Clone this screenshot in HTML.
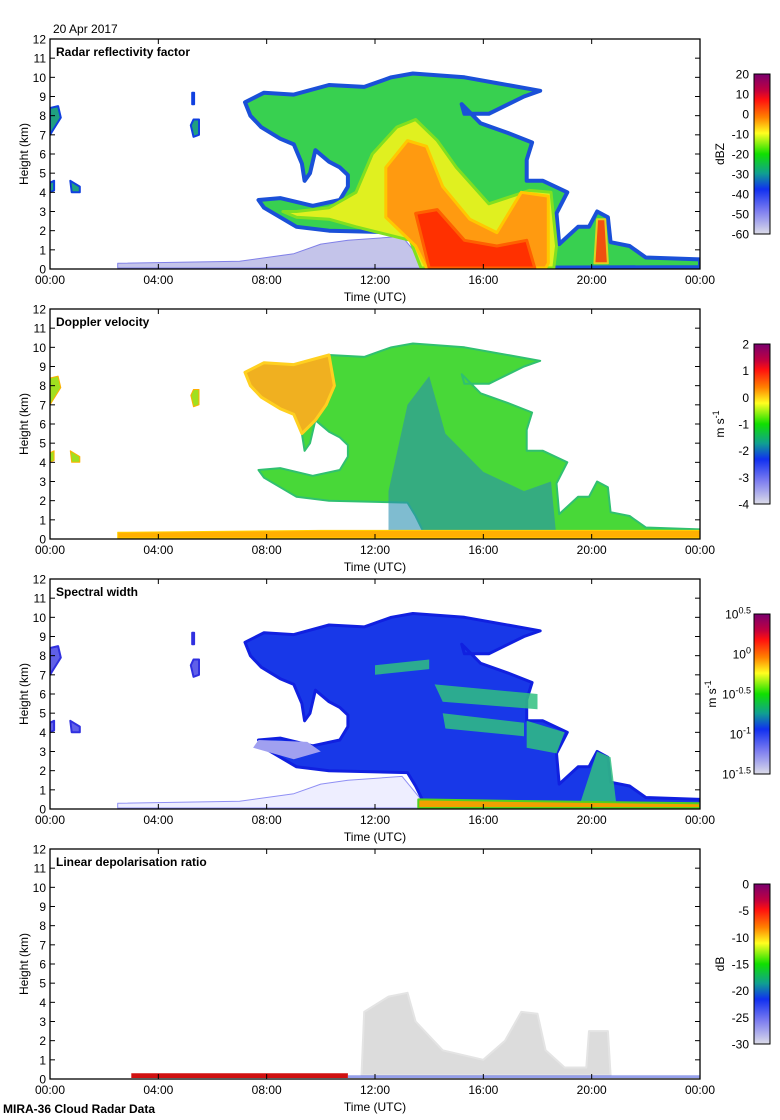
<!DOCTYPE html>
<html><head><meta charset="utf-8">
<style>
html,body{margin:0;padding:0;background:#fff;}
svg{display:block;font-family:"Liberation Sans",sans-serif;}
</style></head>
<body>
<svg id="fig" width="780" height="1120" viewBox="0 0 780 1120" xmlns="http://www.w3.org/2000/svg">
<defs>
<linearGradient id="cmap" x1="0" y1="0" x2="0" y2="1">
<stop offset="0" stop-color="#7a006e"/>
<stop offset="0.1" stop-color="#c00040"/>
<stop offset="0.16" stop-color="#ff1010"/>
<stop offset="0.27" stop-color="#ff8000"/>
<stop offset="0.37" stop-color="#ffff20"/>
<stop offset="0.5" stop-color="#10e000"/>
<stop offset="0.62" stop-color="#10a090"/>
<stop offset="0.72" stop-color="#1030f0"/>
<stop offset="0.86" stop-color="#8080f0"/>
<stop offset="1" stop-color="#dcdce8"/>
</linearGradient>
</defs>
<text x="53" y="33" font-size="12">20 Apr 2017</text>
<text x="3" y="1113" font-size="12" font-weight="bold">MIRA-36 Cloud Radar Data</text>
</svg>
<script>
// ---- data ----
var timeTicks = ["00:00","04:00","08:00","12:00","16:00","20:00","00:00"];
var heightTicks = [0,1,2,3,4,5,6,7,8,9,10,11,12];
var panelTitles = ["Radar reflectivity factor","Doppler velocity","Spectral width","Linear depolarisation ratio"];
var unitLabels = ["dBZ","m s-1","m s-1","dB"];
var cbTicks0 = ["20","10","0","-10","-20","-30","-40","-50","-60"];
var cbTicks1 = ["2","1","0","-1","-2","-3","-4"];
var cbTicks2 = ["0.5","0","-0.5","-1","-1.5"];
var cbTicks3 = ["0","-5","-10","-15","-20","-25","-30"];
var cloudOutline = [[7.2,8.7],[7.9,9.2],[9,9.1],[10.3,9.6],[11.6,9.5],[12.6,10.0],[13.4,10.2],[15.3,10.0],[16.5,9.7],[18.1,9.3],[17.5,9.0],[16.2,8.1],[15.3,8.1],[15.2,8.6],[15.9,7.6],[16.9,7.1],[17.8,6.6],[17.6,5.7],[17.6,4.6],[18.2,4.6],[19.1,4.0],[18.7,2.9],[18.8,1.3],[19.5,2.2],[19.9,2.2],[20.2,3.0],[20.6,2.7],[20.7,1.4],[21.4,1.2],[22,0.6],[24,0.5],[24,0.1],[13.9,0.05],[13.5,1.2],[13.2,1.9],[10.3,2.0],[9.1,2.2],[7.9,3.2],[7.7,3.6],[8.5,3.7],[9.7,3.3],[10.7,3.6],[11.0,4.3],[11.0,4.9],[10.7,5.3],[10.3,5.6],[9.8,6.2],[9.6,5.0],[9.4,4.6],[9.3,5.5],[9.0,6.5],[8.5,6.8],[7.8,7.4],[7.4,8.0]];
var yellowCore = [[11.9,6.0],[12.8,7.4],[13.5,7.8],[14.3,6.7],[15.0,5.3],[16.2,3.4],[17.7,4.1],[18.5,4.0],[18.7,1.2],[18.6,0.05],[13.7,0.05],[13.3,1.5],[11.3,2.2],[10.3,2.6],[9.1,2.7],[8.6,3.0],[9.1,3.0],[10.3,3.2],[11.3,4.0]];
var orangeCore = [[12.4,5.3],[13.2,6.7],[13.9,6.4],[14.5,4.3],[15.5,2.6],[16.5,1.9],[17.4,4.0],[18.4,3.8],[18.4,0.3],[18.3,0.05],[13.9,0.05],[13.5,1.2],[12.4,2.7]];
var redCore = [[13.5,2.9],[14.3,3.1],[15.3,1.5],[16.5,1.2],[17.6,1.5],[17.9,0.05],[14.0,0.05]];
var spikeCore = [[20.1,0.3],[20.2,2.6],[20.5,2.6],[20.6,0.3]];
var clearAir = [[2.5,0.05],[2.5,0.3],[7,0.4],[9,0.8],[10,1.3],[11,1.5],[13,1.7],[13.7,0.5],[13.7,0.05]];
var smallBlobs = [[[0,7.0],[0.4,7.9],[0.3,8.5],[0,8.4]],[[0,4.0],[0.15,4.1],[0.15,4.6],[0,4.5]],[[0.75,4.6],[0.8,4.0],[1.1,4.0],[1.1,4.3]],[[5.2,7.5],[5.3,6.9],[5.5,7.0],[5.5,7.8],[5.3,7.8]],[[5.25,8.6],[5.32,8.6],[5.32,9.2],[5.25,9.2]]];
var velWarm = [[7.2,8.7],[7.9,9.2],[9,9.1],[10.3,9.6],[10.5,8.0],[10.2,7.0],[9.8,6.2],[9.3,5.5],[9.0,6.5],[8.5,6.8],[7.8,7.4],[7.4,8.0]];
var velBlue = [[12.5,2.5],[13.2,7],[14,8.5],[14.6,5.5],[16,3.5],[17.5,2.5],[18.5,3],[18.7,0.05],[12.5,0.05]];
var velSurface = [[2.5,0.05],[2.5,0.35],[10,0.45],[24,0.45],[24,0.05]];
var swGreen = [[[14.2,6.5],[18,6],[18,5.2],[14.5,5.6]],[[14.5,5.0],[17.5,4.5],[17.5,3.8],[14.6,4.2]],[[12,7.5],[14,7.8],[14,7.3],[12,7.0]],[[17.6,4.6],[19,4.0],[18.7,2.9],[17.6,3.2]],[[19.6,0.4],[20.2,3],[20.7,2.7],[20.9,0.4]]];
var swLower = [[7.5,3.2],[7.7,3.6],[9.5,3.5],[10.0,3.0],[9.0,2.6]];
var swSurface = [[13.6,0.05],[13.6,0.5],[18,0.4],[24,0.3],[24,0.05]];
var ldrGrey = [[11.5,0.2],[11.6,3.5],[12.5,4.3],[13.2,4.5],[13.5,3],[14.5,1.5],[16,1.0],[16.8,2.0],[17.4,3.5],[18,3.4],[18.3,1.5],[19,0.6],[19.8,0.6],[19.9,2.5],[20.6,2.5],[20.7,0.2]];
var ldrSurface = [[3,0.05],[3,0.3],[11,0.3],[11,0.05]];
var ldrBlue = [[11,0.05],[11,0.2],[24,0.2],[24,0.05]];
// ---- drawing ----
var NS="http://www.w3.org/2000/svg";
var svg=document.getElementById('fig');
var X0=50,X1=700,PH=230;
function xs(t){return X0+t*(X1-X0)/24;}
function ysFor(pt){return function(h){return pt+PH-h*PH/12;};}
function mk(tag,attrs,parent){var e=document.createElementNS(NS,tag);for(var k in attrs)e.setAttribute(k,attrs[k]);(parent||svg).appendChild(e);return e;}
function poly(g,pts,ys,fill,stroke,sw,name,op){
  var p=pts.map(function(q){return xs(q[0]).toFixed(1)+","+ys(q[1]).toFixed(1);}).join(" ");
  var e=mk('polygon',{points:p,fill:fill,stroke:stroke||'none','stroke-width':sw||0,'stroke-linejoin':'round',opacity:op||1},g);
  
  
  return e;
}
var cbTickSets=[cbTicks0,cbTicks1,cbTicks2,cbTicks3];
for(var i=0;i<4;i++){
  var ptop=39+270*i, ys=ysFor(ptop);
  var g=mk('g',{});
  
  
  var clipId='clip'+i;
  var cp=mk('clipPath',{id:clipId},g);mk('rect',{x:X0,y:ptop,width:X1-X0,height:PH},cp);
  var dg=mk('g',{'clip-path':'url(#'+clipId+')'},g);
  if(i===0){
    poly(dg,clearAir,ys,'#c4c4ea','#8080e8',1,'clear-air-echo');
    smallBlobs.forEach(function(b){poly(dg,b,ys,'#20a080','#1040e0',2,'small-cloud');});
    poly(dg,cloudOutline,ys,'#38d050','#1a50d8',4,'cloud-echo');
    poly(dg,yellowCore,ys,'#e0f020','#80e020',3,'core-yellow');
    poly(dg,orangeCore,ys,'#ff9a10','#ffc800',3,'core-orange');
    poly(dg,redCore,ys,'#ff3000','#ff6000',3,'core-red');
    poly(dg,spikeCore,ys,'#f05010','#e0d020',2,'core-spike');
  } else if(i===1){
    smallBlobs.slice(0,4).forEach(function(b){poly(dg,b,ys,'#a0e020','#ffb000',1,'small-cloud');});
    poly(dg,cloudOutline,ys,'#48d838','#30c070',2,'cloud-velocity');
    poly(dg,velWarm,ys,'#f0b020','#ffd020',3,'updraft-warm');
    poly(dg,velBlue,ys,'#2a90b0','none',0,'downdraft-blue',0.6);
    poly(dg,velSurface,ys,'#ffb000','#ffd000',1,'surface-band');
  } else if(i===2){
    poly(dg,clearAir,ys,'#e8e8ff','#6060f0',1,'clear-air-width',0.7);
    smallBlobs.forEach(function(b){poly(dg,b,ys,'#6060e8','#3030e0',2,'small-cloud');});
    poly(dg,cloudOutline,ys,'#1838e8','#1020e0',3,'cloud-width');
    swGreen.forEach(function(b){poly(dg,b,ys,'#30c080','none',0,'width-patch',0.85);});
    poly(dg,swLower,ys,'#a0a0f0','none',0,'lower-layer');
    poly(dg,swSurface,ys,'#f0a000','#50d020',2,'surface-band');
  } else {
    poly(dg,ldrGrey,ys,'#dcdcdc','#e4e4e4',2,'ldr-echo');
    poly(dg,ldrSurface,ys,'#d01010','none',0,'surface-band');
    poly(dg,ldrBlue,ys,'#5060e0','none',0,'surface-band-blue',0.6);
  }
  var fr=mk('rect',{x:X0,y:ptop,width:X1-X0,height:PH,fill:'none',stroke:'#000','stroke-width':1.3},g);
  
  
  heightTicks.forEach(function(h){
    var y=ys(h);
    mk('line',{x1:X0,x2:X0+5,y1:y,y2:y,stroke:'#000'},g);
    mk('line',{x1:X1-5,x2:X1,y1:y,y2:y,stroke:'#000'},g);
    var t=mk('text',{x:X0-4,y:y+4.5,'font-size':12,'text-anchor':'end'},g);t.textContent=h;
    
    
  });
  timeTicks.forEach(function(s,k){
    var x=xs(k*4);
    mk('line',{x1:x,x2:x,y1:ptop,y2:ptop+5,stroke:'#000'},g);
    mk('line',{x1:x,x2:x,y1:ptop+PH-5,y2:ptop+PH,stroke:'#000'},g);
    var t=mk('text',{x:x,y:ptop+PH+15,'font-size':12,'text-anchor':'middle'},g);t.textContent=s;
    
    
  });
  var tt=mk('text',{x:56,y:ptop+17,'font-size':12,'font-weight':'bold'},g);tt.textContent=panelTitles[i];
  
  
  var xl=mk('text',{x:375,y:ptop+PH+32,'font-size':12,'text-anchor':'middle'},g);xl.textContent='Time (UTC)';
  
  
  var yl=mk('text',{x:0,y:0,'font-size':12,'text-anchor':'middle',transform:'translate(28,'+(ptop+PH/2)+') rotate(-90)'},g);yl.textContent='Height (km)';
  
  
  var cbTop=ptop+35,cbH=160;
  var cb=mk('rect',{x:754,y:cbTop,width:16,height:cbH,fill:'url(#cmap)',stroke:'#000','stroke-width':1},g);
  
  
  var ticks=cbTickSets[i];
  ticks.forEach(function(s,k){
    var y=cbTop+k*cbH/(ticks.length-1);
    var t;
    if(i===2){
      t=mk('text',{x:751,y:y+4.5,'font-size':12,'text-anchor':'end'},g);
      var b=mk('tspan',{},t);b.textContent='10';
      var e=mk('tspan',{dy:-5,'font-size':9},t);e.textContent=s;
    } else {
      t=mk('text',{x:749,y:y+4.5,'font-size':12,'text-anchor':'end'},g);t.textContent=s;
    }
    
    
  });
  var ul=mk('text',{x:0,y:0,'font-size':12,'text-anchor':'middle',transform:'translate('+(i===2?716:724)+','+(cbTop+cbH/2)+') rotate(-90)'},g);
  if(i===1||i===2){var a=mk('tspan',{},ul);a.textContent='m s';var sp=mk('tspan',{dy:-5,'font-size':9},ul);sp.textContent='-1';}
  else ul.textContent=unitLabels[i];
  
  
}
</script>
</body></html>
